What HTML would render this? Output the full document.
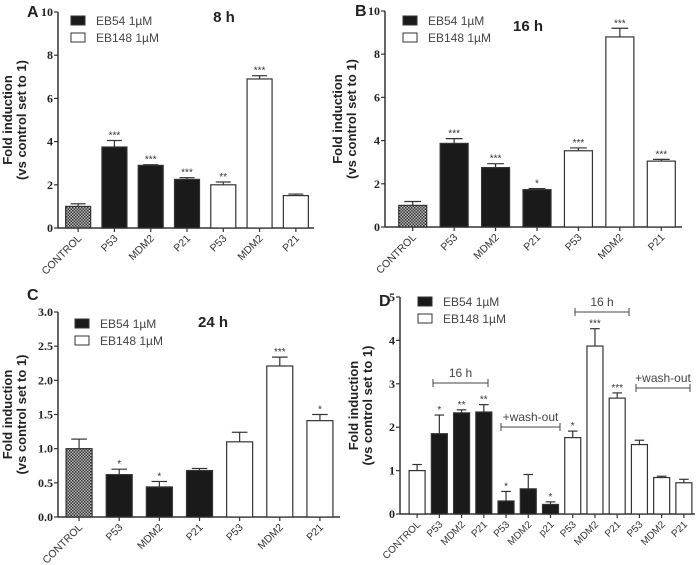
<!DOCTYPE html>
<html><head><meta charset="utf-8"><style>
html,body{margin:0;padding:0;background:#fff;}
svg{display:block;font-family:"Liberation Sans",Arial,sans-serif;}
</style></head><body>
<svg id="fig" width="696" height="565" viewBox="0 0 696 565" xmlns="http://www.w3.org/2000/svg">
<defs>
<pattern id="chk" width="3" height="3" patternUnits="userSpaceOnUse">
<rect width="3" height="3" fill="#bbb"/><rect width="1.5" height="1.5" fill="#333"/><rect x="1.5" y="1.5" width="1.5" height="1.5" fill="#333"/>
</pattern>
</defs>
</svg>
<script>
const catsA=["CONTROL","P53","MDM2","P21","P53","MDM2","P21"];
const valsA=[1.0,3.75,2.9,2.25,2.0,6.9,1.5];
const errsA=[0.12,0.3,0.03,0.08,0.13,0.15,0.07];
const sigsA=["","***","***","***","**","***",""];
const fillA=["c","k","k","k","w","w","w"];
const ticksA=[0,2,4,6,8,10];

const catsB=["CONTROL","P53","MDM2","P21","P53","MDM2","P21"];
const valsB=[1.0,3.87,2.75,1.73,3.53,8.8,3.05];
const errsB=[0.18,0.22,0.18,0.05,0.13,0.4,0.08];
const sigsB=["","***","***","*","***","***","***"];
const fillB=["c","k","k","k","w","w","w"];
const ticksB=[0,2,4,6,8,10];

const catsC=["CONTROL","P53","MDM2","P21","P53","MDM2","P21"];
const valsC=[1.0,0.62,0.44,0.68,1.1,2.21,1.41];
const errsC=[0.14,0.08,0.08,0.03,0.14,0.13,0.09];
const sigsC=["","*","*","","","***","*"];
const fillC=["c","k","k","k","w","w","w"];
const ticksC=["0.0","0.5","1.0","1.5","2.0","2.5","3.0"];

const catsD=["CONTROL","P53","MDM2","P21","P53","MDM2","p21","P53","MDM2","P21","P53","MDM2","P21"];
const valsD=[1.0,1.85,2.33,2.35,0.3,0.58,0.22,1.76,3.87,2.67,1.6,0.84,0.72];
const errsD=[0.14,0.43,0.07,0.17,0.22,0.33,0.06,0.15,0.4,0.12,0.1,0.03,0.08];
const sigsD=["","*","**","**","*","","*","*","***","***","","",""];
const fillD=["w","k","k","k","k","k","k","w","w","w","w","w","w"];
const ticksD=[0,1,2,3,4,5];

const NS="http://www.w3.org/2000/svg";
const svg=document.getElementById("fig");
function mk(tag,attrs,parent,text){const e=document.createElementNS(NS,tag);for(const k in attrs)e.setAttribute(k,attrs[k]);if(text!==undefined)e.textContent=text;(parent||svg).appendChild(e);return e;}

function panel(id,cfg,cats,vals,errs,sigs,fills,ticks){
  const g=mk("g",{});
  
  
  const ymax=cfg.ymax;
  const y=v=>cfg.y0-(v/ymax)*(cfg.y0-cfg.yTop);
  const slot=(cfg.xEnd-cfg.bandStart)/cats.length;
  const xc=i=>cfg.bandStart+slot*(i+0.5);
  const ya=mk("line",{x1:cfg.x0,y1:cfg.yTop,x2:cfg.x0,y2:cfg.y0,stroke:"#333","stroke-width":1.5},g);
  
  
  const xa=mk("line",{x1:cfg.x0,y1:cfg.y0,x2:cfg.xEnd,y2:cfg.y0,stroke:"#333","stroke-width":1.5},g);
  
  
  ticks.forEach(t=>{
    const v=parseFloat(t), yy=y(v);
    mk("line",{x1:cfg.x0-4,y1:yy,x2:cfg.x0,y2:yy,stroke:"#333","stroke-width":1.2},g);
    const tl=mk("text",{x:cfg.x0-5,y:yy+4,"text-anchor":"end","font-size":12,"font-weight":"bold","font-family":"Liberation Serif,serif",fill:"#222"},g,String(t));
    
    
  });
  cats.forEach((c,i)=>{
    const cx=xc(i), w=cfg.bw;
    const top=y(vals[i]);
    const f=fills[i]=="k"?"#1a1a1a":fills[i]=="c"?"url(#chk)":"#fff";
    const eb=y(vals[i]+errs[i]);
    mk("line",{x1:cx,y1:top,x2:cx,y2:eb,stroke:"#333","stroke-width":1.2},g);
    mk("line",{x1:cx-w*0.3,y1:eb,x2:cx+w*0.3,y2:eb,stroke:"#333","stroke-width":1.2},g);
    const r=mk("rect",{x:cx-w/2,y:top,width:w,height:cfg.y0-top,fill:f,stroke:"#333","stroke-width":1.2},g);
    
    
    mk("line",{x1:cx,y1:cfg.y0,x2:cx,y2:cfg.y0+4,stroke:"#333","stroke-width":1.2},g);
    if(sigs[i]){
      const s=mk("text",{x:cx,y:eb-2,"text-anchor":"middle","font-size":10,fill:"#333"},g,sigs[i]);
      
      
    }
    const lx=cx+4, ly=cfg.y0+11;
    const xl=mk("text",{x:lx,y:ly,"text-anchor":"end","font-size":cfg.xfs||10.5,fill:"#333",transform:`rotate(-45 ${lx} ${ly})`},g,c);
    
    
  });
  const mid=(cfg.y0+cfg.yTop)/2;
  const t1=mk("text",{x:cfg.ylx,y:mid,"text-anchor":"middle","font-size":13,"font-weight":"bold",fill:"#222",transform:`rotate(-90 ${cfg.ylx} ${mid})`},g,"Fold induction");
  
  
  const t2=mk("text",{x:cfg.ylx+14,y:mid,"text-anchor":"middle","font-size":13,"font-weight":"bold",fill:"#222",transform:`rotate(-90 ${cfg.ylx+14} ${mid})`},g,"(vs control set to 1)");
  
  
  const L=mk("text",{x:cfg.lx,y:cfg.ly,"font-size":16,"font-weight":"bold",fill:"#222"},g,cfg.letter);
  
  
  if(cfg.title){
    const T=mk("text",{x:cfg.tx,y:cfg.ty,"text-anchor":"middle","font-size":15,"font-weight":"bold",fill:"#222"},g,cfg.title);
    
    
  }
  const l1=mk("rect",{x:cfg.legx,y:cfg.legy,width:14,height:9,fill:"#1a1a1a",stroke:"#333"},g);
  
  
  const lt1=mk("text",{x:cfg.legx+25,y:cfg.legy+9,"font-size":12,fill:"#444"},g,"EB54 1µM");
  
  
  const l2=mk("rect",{x:cfg.legx,y:cfg.legy+17,width:14,height:9,fill:"#fff",stroke:"#333"},g);
  
  
  const lt2=mk("text",{x:cfg.legx+25,y:cfg.legy+26,"font-size":12,fill:"#444"},g,"EB148 1µM");
  
  
  return {g,y,xc};
}

panel("panel-a-8h",{ymax:10,x0:58,yTop:12,y0:228,bandStart:60,xEnd:314,bw:25,ylx:12,lx:27,ly:17,letter:"A",title:"8 h",tx:224,ty:22,legx:71,legy:16},catsA,valsA,errsA,sigsA,fillA,ticksA);
panel("panel-b-16h",{ymax:10,x0:385,yTop:11,y0:227,bandStart:392,xEnd:682,bw:28,ylx:342,lx:355,ly:16,letter:"B",title:"16 h",tx:528,ty:31,legx:403,legy:16},catsB,valsB,errsB,sigsB,fillB,ticksB);
panel("panel-c-24h",{ymax:3,x0:58,yTop:312,y0:517,bandStart:59,xEnd:340,bw:26,ylx:12,lx:27,ly:300,letter:"C",title:"24 h",tx:213,ty:327,legx:75,legy:319},catsC,valsC,errsC,sigsC,fillC,ticksC);
const pd=panel("panel-d-washout",{ymax:5,x0:400,yTop:297,y0:514,bandStart:406,xEnd:695,bw:16,ylx:358,lx:379,ly:306,letter:"D",title:"",legx:418,legy:297,xfs:10},catsD,valsD,errsD,sigsD,fillD,ticksD);

function bracket(x1,x2,yy,label,name){
  const g=mk("g",{});
  
  
  mk("line",{x1:x1,y1:yy,x2:x2,y2:yy,stroke:"#444","stroke-width":1},g);
  mk("line",{x1:x1,y1:yy-4,x2:x1,y2:yy+4,stroke:"#444","stroke-width":1},g);
  mk("line",{x1:x2,y1:yy-4,x2:x2,y2:yy+4,stroke:"#444","stroke-width":1},g);
  mk("text",{x:(x1+x2)/2,y:yy-6,"text-anchor":"middle","font-size":12,fill:"#444"},g,label);
}
bracket(433,488,383,"16 h","bracket-16h-eb54");
bracket(501,560,427,"+wash-out","bracket-washout-eb54");
bracket(575,629,312,"16 h","bracket-16h-eb148");
bracket(636,690,388,"+wash-out","bracket-washout-eb148");
</script>
</body></html>
